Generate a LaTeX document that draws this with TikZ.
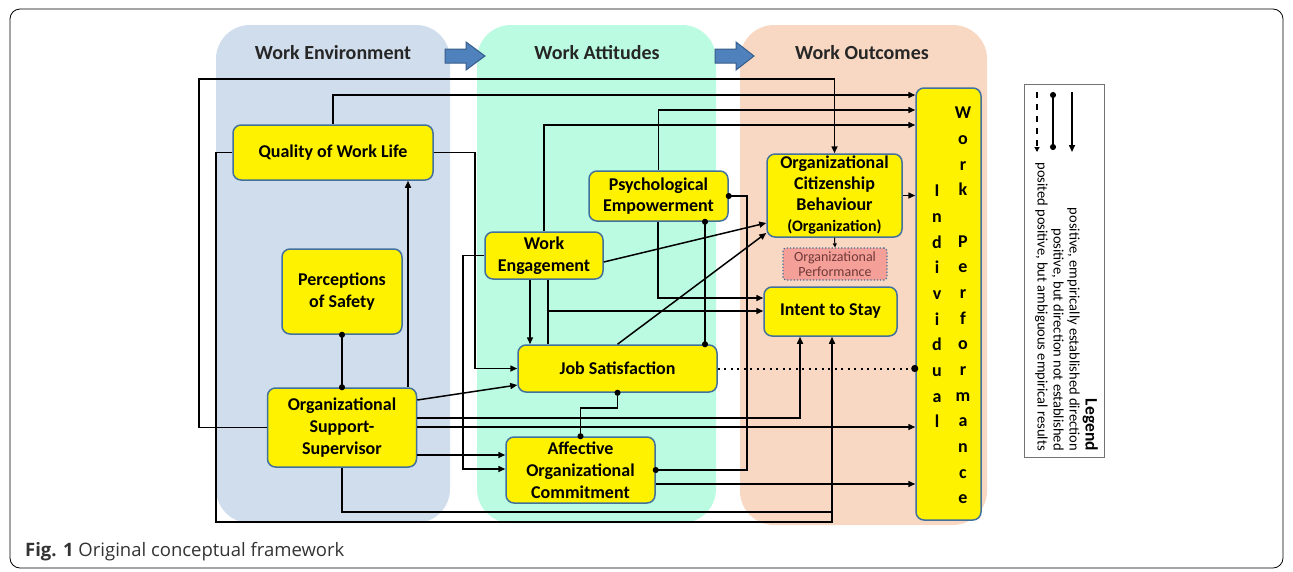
\documentclass[tikz,border=0pt]{standalone}
\usepackage{fontspec}
\setmainfont{Carlito}
\newfontfamily\capfont{Open Sans}
\usetikzlibrary{arrows.meta}

\definecolor{envblue}{RGB}{208,221,236}
\definecolor{attgreen}{RGB}{186,251,226}
\definecolor{outpeach}{RGB}{248,216,195}
\definecolor{boxline}{RGB}{65,113,156}
\definecolor{flowblue}{RGB}{79,129,189}
\definecolor{flowline}{RGB}{56,93,138}
\definecolor{perfpink}{RGB}{244,160,152}
\definecolor{perftext}{RGB}{112,56,56}

\tikzset{
  concept/.style={draw=boxline,fill=yellow,line width=1.5pt,rounded corners=8pt,
    align=center,inner sep=1pt,font=\fontsize{18}{21.8}\selectfont\bfseries},
  perf/.style={draw=boxline,dotted,fill=perfpink,line width=1.2pt,rounded corners=3pt,
    minimum width=104pt,minimum height=32pt,align=center,inner sep=1pt,
    text=perftext,font=\fontsize{14}{15.5}\selectfont},
  coltitle/.style={font=\fontsize{20}{24}\selectfont\bfseries,text=black!85},
  estab/.style={line width=1.5pt,-{Triangle[length=7pt,width=6pt]}},
  link/.style={line width=1.5pt,{Circle[length=6pt]}-{Circle[length=6pt]},
    shorten <=-3pt,shorten >=-3pt},
  ambig/.style={line width=2pt,dash pattern=on 2pt off 4.5pt,-{Circle[length=7pt]},
    shorten >=-3pt},
  flow/.style={fill=flowblue,draw=flowline,line width=1pt}
}

\begin{document}
\begin{tikzpicture}[x=1pt,y=-1pt]
\useasboundingbox (0,0) rectangle (1293,571);

% the three stages
\fill[envblue,rounded corners=34pt] (216,25) rectangle (450,523);
\fill[attgreen,rounded corners=34pt] (477,25) rectangle (716,523);
\fill[outpeach,rounded corners=34pt] (740,25) rectangle (987,525);
\draw[flow] (445,49) -- (466,49) -- (466,42) -- (485,56) -- (466,70) -- (466,63) -- (445,63) -- cycle;
\draw[flow] (715,49) -- (736,49) -- (736,42) -- (754,56) -- (736,70) -- (736,63) -- (715,63) -- cycle;
\node[coltitle] (envtitle) at (333,53) {Work Environment};
\node[coltitle] (atttitle) at (597,53) {Work Attitudes};
\node[coltitle] (outtitle) at (862,53) {Work Outcomes};

% constructs
\node[concept,minimum width=200pt,minimum height=55pt] (QWL) at (333,152.5) {Quality of Work Life};
\node[concept,minimum width=120pt,minimum height=85pt] (PoS) at (342,291.5) {Perceptions\\of Safety};
\node[concept,minimum width=149pt,minimum height=79pt] (OSS) at (342,427.5) {Organizational\\Support-\\Supervisor};
\node[concept,minimum width=118pt,minimum height=47pt] (WE) at (544,255.5) {Work\\Engagement};
\node[concept,minimum width=139pt,minimum height=50pt] (PE) at (658.5,196) {Psychological\\Empowerment};
\node[concept,minimum width=199pt,minimum height=47pt] (JS) at (617.5,368.5) {Job Satisfaction};
\node[concept,minimum width=149pt,minimum height=66pt] (AOC) at (580.5,470) {Affective\\Organizational\\Commitment};
\node[concept,minimum width=135pt,minimum height=83pt,font=\fontsize{18}{21}\selectfont\bfseries] (OCB) at (834.5,195.5)
  {Organizational\\Citizenship\\Behaviour\\{\fontsize{16}{19}\selectfont(Organization)}};
\node[perf] (OP) at (835,264) {Organizational\\Performance};
\node[concept,minimum width=133pt,minimum height=49pt] (IS) at (830.5,311.5) {Intent to Stay};
\node[concept,minimum width=65pt,minimum height=432pt] (IWP) at (948.5,304) {};
\node[font=\fontsize{18}{25.67}\selectfont\bfseries,align=center,anchor=north,inner sep=0pt] (worklbl) at (963,107)
  {W\\o\\r\\k\\\mbox{}\\P\\e\\r\\f\\o\\r\\m\\a\\n\\c\\e};
\node[font=\fontsize{18}{25.67}\selectfont\bfseries,align=center,anchor=north,inner sep=0pt] (indivlbl) at (937,185)
  {I\\n\\d\\i\\v\\i\\d\\u\\a\\l};

% Organizational Support-Supervisor
\draw[estab] (OSS.west) -| (199,79) -| (OCB.north);
\draw[estab] (OSS.north -| 408,0) -- (QWL.south -| 408,0);
\draw[estab] (OSS.east |- 0,400) -- (JS.west |- 0,385);
\draw[estab] (OSS.east |- 0,418) -| (IS.south -| 800,0);
\draw[estab] (OSS.east |- 0,427) -- (IWP.west |- 0,427);
\draw[estab] (OSS.east |- 0,455) -- (AOC.west |- 0,455);
\draw[line width=1.5pt] (OSS.south) |- (832,512);
\draw[link] (PoS.south) -- (OSS.north);

% Quality of Work Life
\draw[estab] (QWL.north) |- (IWP.west |- 0,95);
\draw[estab] (QWL.east) -| (475,368.5) -- (JS.west);
\draw[estab] (QWL.west) -| (216,522) -| (IS.south -| 832,0);

% Work Engagement
\draw[estab] (WE.north) |- (IWP.west |- 0,125);
\draw[estab] (WE.east |- 0,262) -- (OCB.west |- 0,223);
\draw[estab] (WE.south -| 530,0) -- (JS.north -| 530,0);
\draw[line width=1.5pt] (WE.south -| 548,0) -- (JS.north -| 548,0);
\draw[estab] (548,311) -- (IS.west |- 0,311);
\draw[estab] (WE.west) -| (463,469) -- (AOC.west |- 0,469);

% Psychological Empowerment
\draw[estab] (PE.north) |- (IWP.west |- 0,110);
\draw[estab] (PE.south -| 658,0) |- (IS.west |- 0,298);
\draw[link] (PE.south -| 705,0) -- (JS.north -| 705,0);
\draw[link] (PE.east) -| (747,470) -- (AOC.east);

% Job Satisfaction and Commitment
\draw[estab] (JS.north) -- (OCB.west |- 0,233);
\draw[link] (JS.south) |- (AOC.north |- 0,408) -- (AOC.north);
\draw[ambig] (JS.east) -- (IWP.west |- JS.east);
\draw[estab] (AOC.east |- 0,484) -- (IWP.west |- 0,484);

% OCB
\draw[estab] (OCB.east) -- (IWP.west |- OCB.east);
\draw[line width=1pt,-{Triangle[length=4pt,width=4pt]}] (OCB.south) -- (OP.north);

% legend
\node[draw=black!55,line width=0.8pt,minimum width=80pt,minimum height=373pt,inner sep=0pt] (legend) at (1064,270.5) {};
\draw[estab] (1072,92) -- (1072,152);
\draw[link,shorten <=0pt,shorten >=0pt] (1053,92) -- (1053,150);
\draw[line width=1.5pt,dash pattern=on 6pt off 6pt,-{Triangle[length=5pt,width=5pt]}] (1037,92) -- (1037,152);
\node[rotate=-90,anchor=north east,align=right,inner sep=0pt,font=\fontsize{14.5}{16}\selectfont] (legendtxt) at (1098,451)
  {{\fontsize{17.5}{17.5}\selectfont\bfseries Legend}\\positive, empirically established direction\\
   positive, but direction not established\\posited positive, but ambiguous empirical results};

% figure frame and caption
\draw[line width=0.8pt,rounded corners=10pt] (10,9) rectangle (1283,568);
\node[anchor=base west,inner sep=0pt,text=black!80,font=\capfont\fontsize{18.5}{22}\selectfont] (caption) at (25,556)
  {\textbf{Fig. 1} Original conceptual framework};
\end{tikzpicture}
\end{document}
